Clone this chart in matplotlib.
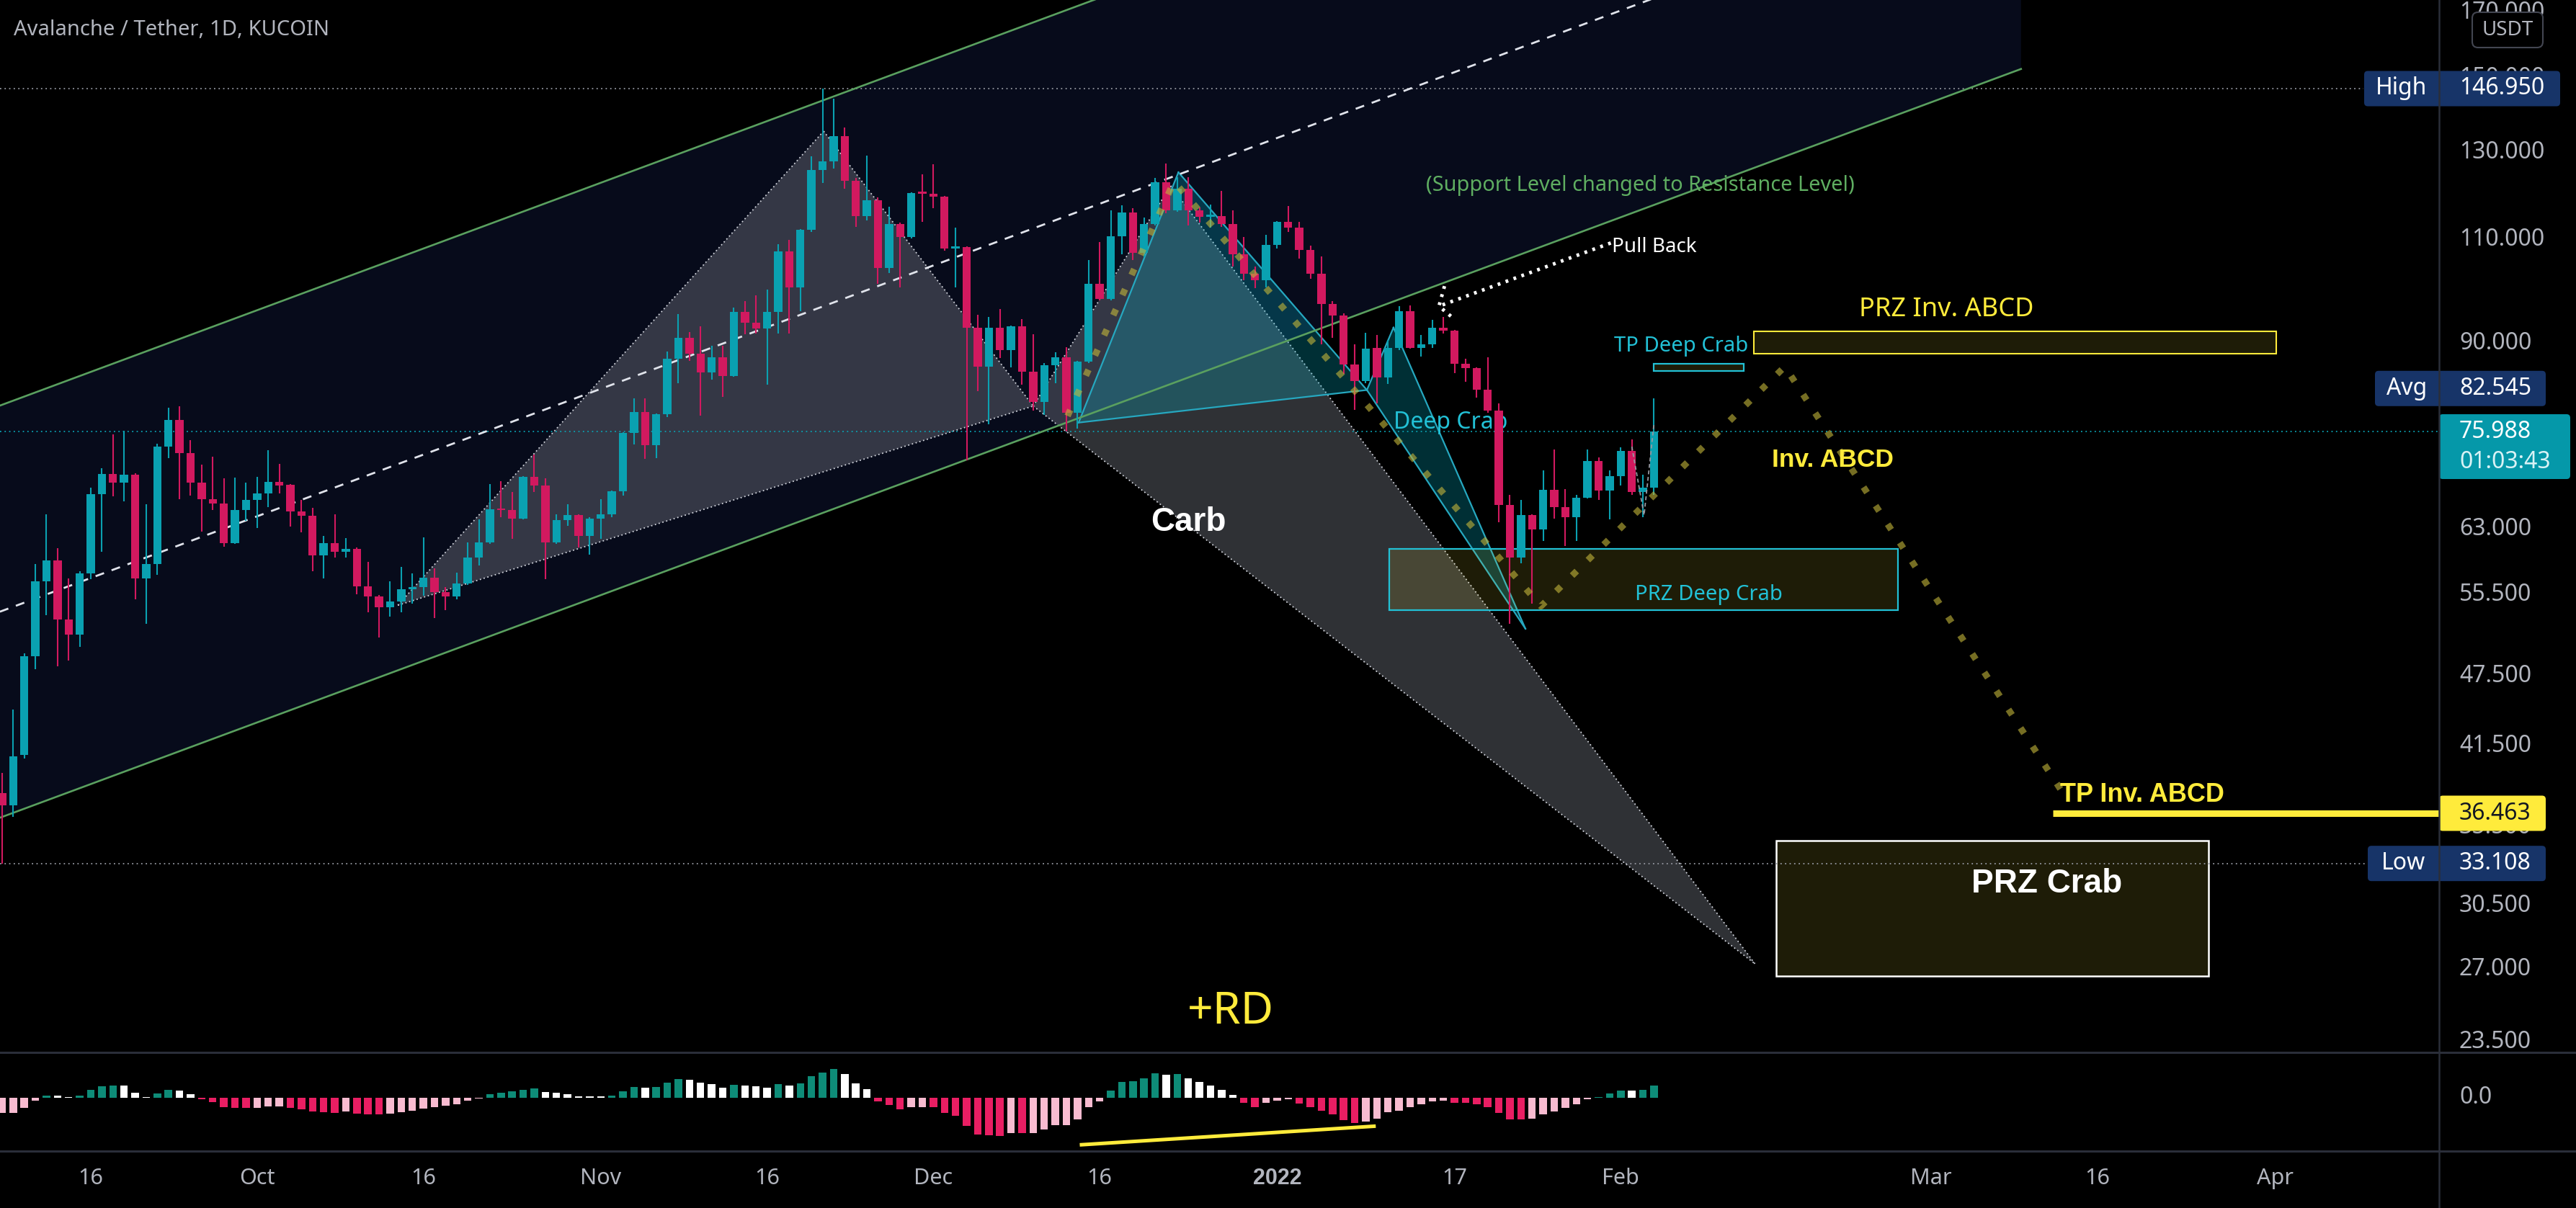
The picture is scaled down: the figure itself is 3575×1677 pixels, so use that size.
import matplotlib
matplotlib.use("Agg")
import matplotlib.pyplot as plt
import numpy as np
from matplotlib.patches import Polygon, Rectangle, FancyBboxPatch

plt.rcParams["font.family"] = ["Noto Sans", "DejaVu Sans"]
BOLD_FONT = ["Liberation Sans", "DejaVu Sans"]

# ---------------------------------------------------------------- data
# daily AVAX/USDT candles (KuCoin), day 0 = 2021-09-16
days = np.arange(-8, 142)
opens = [
    37.9, 37.0, 40.8, 49.3, 57.0, 59.3, 52.9, 51.4, 57.8, 67.4,
    70.0, 68.9, 69.9, 57.3, 58.9, 73.8, 77.7, 72.9, 68.9, 66.7,
    66.2, 61.3, 65.3, 66.6, 67.5, 69.0, 68.6, 65.2, 64.6, 59.9,
    61.3, 60.3, 60.6, 56.4, 55.3, 54.2, 54.8, 56.1, 56.3, 57.4,
    55.8, 55.3, 56.7, 59.6, 61.4, 65.4, 65.3, 64.3, 69.6, 68.5,
    61.4, 64.1, 64.7, 62.2, 64.3, 64.8, 67.7, 75.8, 78.9, 74.0,
    78.6, 87.4, 91.0, 88.2, 85.1, 87.7, 84.5, 95.6, 93.7, 92.6,
    95.7, 107.4, 100.3, 112.0, 125.6, 127.7, 134.2, 123.0, 115.0, 118.6,
    104.1, 113.3, 110.5, 120.2, 120.0, 119.4, 108.0, 108.3, 92.8, 86.1,
    92.8, 88.9, 93.0, 85.2, 80.4, 86.3, 87.6, 78.8, 86.9, 101.0,
    98.0, 110.6, 115.8, 107.1, 113.3, 122.7, 116.2, 121.2, 116.2, 114.8,
    115.0, 113.3, 106.8, 102.9, 101.6, 108.8, 113.8, 112.5, 107.7, 102.9,
    97.1, 95.0, 86.4, 83.7, 89.2, 84.3, 89.2, 95.8, 89.3, 89.9,
    92.8, 92.2, 86.6, 85.8, 82.3, 79.1, 66.0, 59.6, 64.7, 62.9,
    67.9, 65.7, 64.4, 66.9, 71.8, 67.8, 69.7, 73.2, 67.6, 68.2,
]
highs = [
    39.4, 44.5, 49.6, 58.9, 64.8, 60.7, 57.3, 58.1, 68.2, 70.8,
    75.6, 76.1, 70.1, 66.1, 74.2, 79.5, 79.8, 74.7, 71.3, 72.4,
    69.4, 69.5, 68.9, 69.6, 73.3, 71.4, 68.7, 66.6, 65.6, 62.2,
    64.8, 61.9, 60.8, 59.1, 55.5, 57.0, 58.6, 57.8, 62.0, 58.4,
    56.3, 57.9, 61.4, 64.2, 68.7, 69.1, 67.6, 69.7, 72.7, 69.4,
    64.8, 66.1, 64.8, 64.4, 66.7, 67.8, 75.9, 81.0, 81.0, 78.7,
    88.6, 95.2, 92.0, 93.0, 89.6, 89.6, 96.5, 97.7, 98.7, 99.9,
    108.9, 109.9, 112.1, 129.0, 146.95, 144.1, 136.4, 123.8, 129.1, 119.2,
    117.1, 113.6, 120.3, 124.6, 127.1, 119.5, 112.5, 108.5, 95.1, 94.7,
    96.2, 93.1, 94.3, 91.6, 86.7, 88.5, 89.4, 87.0, 105.6, 109.4,
    116.2, 117.4, 116.8, 114.7, 123.7, 127.3, 124.0, 124.0, 117.0, 117.6,
    120.7, 116.2, 110.4, 104.3, 111.0, 113.9, 117.2, 113.8, 108.7, 106.4,
    97.6, 95.4, 89.9, 91.9, 91.5, 90.6, 96.7, 96.9, 91.5, 94.2,
    94.7, 92.4, 87.4, 86.0, 87.6, 80.2, 67.3, 66.6, 64.8, 70.5,
    73.4, 68.0, 67.3, 73.4, 72.3, 70.5, 73.7, 74.8, 69.9, 81.0,
]
lows = [
    33.1, 36.2, 40.5, 48.1, 53.4, 48.4, 48.9, 50.2, 57.2, 60.3,
    67.1, 66.4, 55.0, 52.5, 57.7, 72.2, 66.7, 67.2, 62.7, 65.3,
    60.9, 61.2, 64.0, 63.1, 65.7, 67.5, 63.3, 62.6, 58.1, 57.3,
    59.6, 59.6, 55.6, 53.7, 51.1, 53.2, 53.7, 54.6, 55.4, 53.1,
    53.9, 55.0, 56.6, 58.7, 61.2, 64.4, 61.8, 64.2, 67.6, 57.2,
    61.2, 63.4, 60.8, 60.0, 61.8, 64.4, 67.2, 74.1, 72.1, 72.2,
    78.1, 83.4, 87.0, 78.3, 84.0, 81.2, 84.4, 91.6, 91.8, 83.1,
    91.8, 91.8, 95.8, 111.5, 122.5, 126.0, 121.2, 112.6, 114.1, 101.0,
    103.1, 100.3, 110.2, 113.8, 116.7, 107.6, 100.2, 71.9, 82.1, 77.0,
    87.5, 86.0, 83.2, 79.1, 78.5, 83.4, 76.0, 76.4, 86.7, 97.8,
    97.8, 106.9, 105.6, 106.2, 113.0, 115.7, 116.0, 113.0, 113.5, 112.5,
    112.6, 104.3, 101.6, 100.1, 100.2, 108.1, 111.6, 106.0, 101.9, 89.9,
    91.0, 84.9, 79.2, 83.4, 80.2, 83.3, 88.9, 89.1, 87.8, 89.3,
    91.7, 85.0, 83.6, 81.1, 78.8, 63.8, 52.5, 59.0, 54.6, 61.6,
    64.3, 61.0, 61.6, 66.8, 66.6, 64.2, 68.5, 67.3, 64.4, 67.3,
]
closes = [
    37.0, 40.7, 49.3, 57.0, 59.3, 52.9, 51.4, 57.8, 67.4, 70.0,
    68.9, 69.9, 57.3, 58.9, 73.8, 77.7, 72.9, 68.9, 66.7, 66.2,
    61.3, 65.3, 66.6, 67.5, 69.0, 68.5, 65.2, 64.6, 59.9, 61.3,
    60.3, 60.6, 56.4, 55.3, 54.2, 54.8, 56.1, 56.3, 57.4, 55.8,
    55.3, 56.7, 59.6, 61.4, 65.4, 65.3, 64.3, 69.6, 68.5, 61.4,
    64.1, 64.7, 62.2, 64.3, 64.8, 67.7, 75.8, 78.9, 74.0, 78.6,
    87.4, 91.0, 88.2, 85.1, 87.7, 84.5, 95.6, 93.7, 92.6, 95.7,
    107.4, 100.3, 112.0, 125.6, 127.7, 134.2, 123.0, 115.0, 118.6, 104.1,
    113.3, 110.5, 120.2, 120.0, 119.4, 108.0, 108.3, 92.8, 86.1, 92.8,
    88.9, 93.0, 85.2, 80.4, 86.3, 87.6, 78.8, 86.9, 101.0, 98.0,
    110.6, 115.8, 107.1, 113.3, 122.7, 116.2, 121.2, 116.2, 114.8, 115.0,
    113.3, 106.8, 102.9, 101.6, 108.8, 113.8, 112.5, 107.7, 102.9, 97.1,
    95.0, 86.4, 83.7, 89.1, 84.3, 89.2, 95.8, 89.3, 89.9, 92.8,
    92.2, 86.6, 85.8, 82.3, 79.1, 66.0, 59.6, 64.7, 62.9, 67.9,
    65.7, 64.4, 66.9, 71.8, 67.8, 69.7, 73.2, 67.6, 68.2, 75.988,
]

# MACD-style histogram, one bar per candle
hist_values = [
    -6.3, -6.3, -4.1, -1.3, 1.0, 0.9, 0.3, 0.9, 3.2, 4.7,
    5.0, 5.2, 2.2, 0.4, 1.9, 3.2, 3.0, 1.5, -0.5, -1.8,
    -3.8, -4.1, -4.1, -4.1, -3.5, -3.5, -4.1, -4.8, -5.6, -6.0,
    -6.3, -5.8, -6.5, -6.8, -7.0, -6.6, -6.0, -5.3, -4.6, -3.8,
    -3.3, -2.6, -1.3, -0.3, 1.4, 2.2, 2.7, 3.2, 3.9, 2.4,
    2.0, 1.4, 0.7, 0.7, 0.7, 1.0, 2.7, 4.4, 4.2, 4.4,
    6.2, 7.9, 7.5, 6.4, 5.7, 4.2, 5.4, 5.2, 4.7, 4.2,
    5.7, 5.0, 6.0, 9.0, 10.4, 12.0, 10.0, 6.0, 3.7, -1.5,
    -3.1, -4.8, -3.8, -3.8, -3.8, -6.3, -7.6, -11.6, -15.3, -15.5,
    -15.8, -14.6, -14.8, -14.8, -13.3, -11.3, -11.3, -9.0, -4.0, -1.6,
    3.0, 6.7, 7.0, 8.0, 10.2, 9.7, 9.9, 8.2, 6.7, 5.0,
    3.4, 1.2, -2.0, -3.8, -2.1, -1.3, -0.6, -2.3, -3.8, -5.3,
    -6.8, -9.3, -10.6, -10.0, -8.6, -6.0, -5.3, -4.0, -2.8, -1.6,
    -1.3, -2.0, -2.2, -2.8, -3.8, -6.3, -9.0, -9.0, -8.6, -6.8,
    -5.6, -4.3, -2.8, -0.6, 0.4, 1.7, 3.0, 3.0, 3.2, 5.0,
]
# t / w = above zero rising / falling, m / p = below zero falling / rising
hist_kinds = "".join([
    "pppptwwttt", "twwwttwwmm", "mmmpppmmmm", "mpmmmppppp", "pppptttttw",
    "wwwwwtttwt", "ttwwwwtwww", "twttttwwwm", "mmppmmmmmm", "mpmppppppp",
    "tttttwtwww", "wwmmpppmmm", "mmmppppppp", "pmmmmmmmpp", "pppptttwtt",
])

x_tick_days = [0, 15, 30, 46, 61, 76, 91, 107, 123, 138, 166, 181, 197]
x_tick_labels = ["16", "Oct", "16", "Nov", "16", "Dec", "16", "2022", "17", "Feb", "Mar", "16", "Apr"]
price_ticks = [170, 150, 130, 110, 90, 63, 55.5, 47.5, 41.5, 35.5, 30.5, 27, 23.5]

high_price, avg_price, low_price, last_price = 146.95, 82.545, 33.108, 75.988

# ascending channel (straight on the log chart)
channel_days = [-8.2, 174.1]
channel_lower = [36.15, 152.6]
channel_mid = [53.73, 227.2]
channel_upper = [79.87, 337.6]

# harmonic patterns: X, A, B, C, D
crab_days = [27.7, 66.1, 85.0, 97.4, 150.1]
crab_prices = [54.4, 135.4, 79.8, 121.9, 27.3]
deep_days = [89.1, 98.1, 115.1, 117.5, 129.4]
deep_prices = [77.3, 125.1, 82.3, 92.8, 52.0]
abcd_days = [88.1, 97.7, 130.8, 152.8, 178.3]
abcd_prices = [78.3, 122.9, 54.3, 86.1, 37.4]

# zones: first day, last day, low, high
prz_deep_crab = (117.1, 163.0, 53.9, 60.6)
tp_deep_crab = (141.0, 149.1, 85.4, 86.6)
prz_inv_abcd = (150.0, 197.1, 88.3, 92.1)
prz_crab = (152.0, 191.0, 26.66, 34.6)
tp_inv_abcd_price, tp_inv_abcd_start = 36.463, 177.0

pullback_days = [137.1, 121.6]
pullback_prices = [109.2, 96.7]
pullback_head_days = [122.1, 121.6, 123.0]
pullback_head_prices = [100.5, 96.7, 94.3]
projection_days = [139.0, 140.1, 141.0]
projection_prices = [73.8, 64.7, 77.2]

rd_days = [89.2, 115.9]
rd_values = [-19.6, -11.8]

# ---------------------------------------------------------------- style
BG = "#000000"
TXT = "#b2b5be"
UP, DOWN = "#0aa1b1", "#d2195f"
HIST_COLORS = {"t": "#0e8c78", "w": "#ffffff", "m": "#e91e63", "p": "#f8bbd0"}
YELLOW = "#ffeb3b"
CYAN = "#22c1d6"
GREEN = "#5aa05f"
TAG_BLUE = "#173468"
FS = 23

W, H, DPI = 3575, 1677, 100
PANE_Y, HIST_Y, AXIS_X = 1461, 1598, 3385

fig = plt.figure(figsize=(W / DPI, H / DPI), dpi=DPI, facecolor=BG)
ax = fig.add_axes([0, 1 - PANE_Y / H, AXIS_X / W, PANE_Y / H])
hax = fig.add_axes([0, 1 - HIST_Y / H, AXIS_X / W, (HIST_Y - PANE_Y) / H])
ov = fig.add_axes([0, 0, 1, 1], zorder=10)
for a in (ax, hax, ov):
    a.set_axis_off()
ov.patch.set_alpha(0)
ov.set_xlim(0, W)
ov.set_ylim(H, 0)

ax.set_yscale("log")
ax.set_xlim(-8.19, 211.81)
ax.set_ylim(23.02, 174.25)
hax.set_xlim(-8.19, 211.81)
hax.set_ylim(-22.2, 18.9)

# ---------------------------------------------------------------- channel
ax.add_patch(Polygon(
    [(channel_days[0], channel_lower[0]), (channel_days[1], channel_lower[1]),
     (channel_days[1], channel_upper[1]), (channel_days[0], channel_upper[0])],
    closed=True, fc="#070b1b", ec="none", zorder=0.5))
ax.plot(channel_days, channel_lower, color=GREEN, lw=1.9, zorder=2)
ax.plot(channel_days, channel_upper, color=GREEN, lw=1.9, zorder=2)
ax.plot(channel_days, channel_mid, color="#e0e3eb", lw=2, dashes=(4.5, 4), zorder=2)


def xabcd(dd, pp, face, alpha, edge, style, lw, z):
    pts = list(zip(dd, pp))
    for tri in ((0, 1, 2), (2, 3, 4)):
        ax.add_patch(Polygon([pts[i] for i in tri], closed=True, fc=face, alpha=alpha,
                             ec="none", zorder=z))
    for i, j in ((0, 1), (1, 2), (0, 2), (2, 3), (3, 4), (2, 4)):
        ax.plot([dd[i], dd[j]], [pp[i], pp[j]], color=edge, lw=lw, ls=style, zorder=z + 0.05)


xabcd(crab_days, crab_prices, "#787b86", 0.40, "#d1d4dc", (0, (1, 2)), 1.3, 1.0)
xabcd(deep_days, deep_prices, "#00bcd4", 0.25, "#26a8c0", "-", 1.6, 1.2)


def zone(box, edge, lw):
    d0, d1, lo, hi = box
    ax.add_patch(Rectangle((d0, lo), d1 - d0, hi - lo, fc=YELLOW, alpha=0.12, ec="none", zorder=1.3))
    ax.add_patch(Rectangle((d0, lo), d1 - d0, hi - lo, fc="none", ec=edge, lw=lw, zorder=1.35))


zone(prz_deep_crab, CYAN, 1.6)
zone(tp_deep_crab, CYAN, 1.6)
zone(prz_inv_abcd, YELLOW, 1.5)
zone(prz_crab, "#ffffff", 1.8)

xmin, xmax = ax.get_xlim()
ax.plot([tp_inv_abcd_start, xmax], [tp_inv_abcd_price] * 2, color=YELLOW, lw=6.5,
        solid_capstyle="butt", zorder=2)

# reference levels
ax.plot([xmin, 205.0], [high_price] * 2, color="#9598a1", lw=1.3, ls=(0, (1, 2.5)), zorder=1.5)
ax.plot([xmin, 205.4], [low_price] * 2, color="#9598a1", lw=1.3, ls=(0, (1, 2.5)), zorder=1.5)
ax.plot([xmin, xmax], [last_price] * 2, color="#0aa1b1", lw=1.3, ls=(0, (1, 2.5)), zorder=1.5)

# ---------------------------------------------------------------- notes under candles
ax.text(120.4, 121.9, "(Support Level changed to Resistance Level)", color="#5fae61",
        fontsize=20.8, ha="left", va="center", zorder=2.5)
ax.text(117.5, 77.3, "Deep Crab", color=CYAN, fontsize=23, ha="left", va="center", zorder=2.5)
ax.text(99.0, 63.8, "Carb", color="white", fontsize=33, fontweight="bold", family=BOLD_FONT,
        ha="center", va="center", zorder=2.5)

# ---------------------------------------------------------------- candles
o, hi_, lo_, c = map(np.asarray, (opens, highs, lows, closes))
cols = np.where(c >= o, UP, DOWN)
ax.vlines(days, lo_, hi_, colors=cols, lw=1.5, zorder=3)
body_lo = np.minimum(o, c)
body_hi = np.maximum(o, c)
ax.bar(days, np.maximum(body_hi - body_lo, body_lo * 0.004), bottom=body_lo, width=0.74,
       color=cols, zorder=3.1)

# projected ABCD legs (thick dotted, squares read as diamonds)
ax.plot(abcd_days, abcd_prices, color="#bfb23a", alpha=0.62, lw=6.5, dashes=(1, 2.4),
        solid_capstyle="butt", zorder=3.5)
ax.plot(projection_days, projection_prices, color="#9598a1", lw=1.3, ls=(0, (3, 2)), zorder=3.4)

ax.plot(pullback_days, pullback_prices, color="white", lw=3.5, dashes=(0.8, 1.6), zorder=4)
ax.plot(pullback_head_days, pullback_head_prices, color="white", lw=3.5, dashes=(0.8, 1.6), zorder=4)

ax.text(137.2, 108.3, "Pull Back", color="white", fontsize=20, ha="left", va="center", zorder=4)
ax.text(159.5, 96.0, "PRZ Inv. ABCD", color=YELLOW, fontsize=26, ha="left", va="center", zorder=4)
ax.text(137.4, 89.5, "TP Deep Crab", color=CYAN, fontsize=21, ha="left", va="center", zorder=4)
ax.text(151.6, 71.9, "Inv. ABCD", color=YELLOW, fontsize=25.5, fontweight="bold", family=BOLD_FONT,
        ha="left", va="center", zorder=4)
ax.text(139.3, 55.5, "PRZ Deep Crab", color=CYAN, fontsize=21, ha="left", va="center", zorder=4)
ax.text(177.6, 37.75, "TP Inv. ABCD", color=YELLOW, fontsize=26, fontweight="bold", family=BOLD_FONT,
        ha="left", va="center", zorder=4)
ax.text(176.4, 31.83, "PRZ Crab", color="white", fontsize=33, fontweight="bold", family=BOLD_FONT,
        ha="center", va="center", zorder=4)
ax.text(102.8, 24.87, "+RD", color=YELLOW, fontsize=45, ha="center", va="center", zorder=4)

# ---------------------------------------------------------------- histogram pane
hax.bar(days, hist_values, width=0.68, color=[HIST_COLORS[k] for k in hist_kinds])
hax.plot(rd_days, rd_values, color=YELLOW, lw=3.6, solid_capstyle="butt")


# ---------------------------------------------------------------- price scale & labels (overlay, pixels)
def price_px(p):
    return H - ax.transData.transform((0, p))[1]


def day_px(d):
    return ax.transData.transform((d, 100))[0]


for p in price_ticks:
    ov.text(3413, price_px(p), f"{p:.3f}", color=TXT, fontsize=FS, ha="left", va="center", zorder=1)
zero_y = H - hax.transData.transform((0, 0))[1]
ov.text(3413, zero_y, "0.0", color=TXT, fontsize=FS, ha="left", va="center", zorder=1)

for d, lab in zip(x_tick_days, x_tick_labels):
    if lab == "2022":
        ov.text(day_px(d), 1636, lab, color=TXT, fontsize=22, fontweight="bold", family=BOLD_FONT,
                ha="center", va="center")
    else:
        ov.text(day_px(d), 1636, lab, color=TXT, fontsize=22, ha="center", va="center")

ov.text(19, 41, "Avalanche / Tether, 1D, KUCOIN", color=TXT, fontsize=21, ha="left", va="center")


def tag(x0, x1, yc, color, h=49, z=2):
    ov.add_patch(FancyBboxPatch((x0, yc - h / 2), x1 - x0, h, boxstyle="round,pad=0,rounding_size=5",
                                fc=color, ec="none", zorder=z))


ov.add_patch(FancyBboxPatch((3431, 17), 98, 49, boxstyle="round,pad=0,rounding_size=8",
                            fc=BG, ec="#434651", lw=1.5, zorder=2))
ov.text(3480, 42, "USDT", color=TXT, fontsize=20, ha="center", va="center", zorder=3)

for name, val, x0, x1 in (("High", high_price, 3281, 3553), ("Avg", avg_price, 3296, 3533),
                          ("Low", low_price, 3286, 3533)):
    y = price_px(val)
    tag(x0, x1, y, TAG_BLUE)
    ov.text((x0 + AXIS_X) / 2, y, name, color="white", fontsize=FS, ha="center", va="center", zorder=3)
    ov.text(3413, y, f"{val:.3f}", color="white", fontsize=FS, ha="left", va="center", zorder=3)

y_last = price_px(last_price)
tag(AXIS_X, 3567, y_last + 21, "#0598a9", h=90)
ov.text(3413, y_last, f"{last_price:.3f}", color="white", fontsize=FS, ha="left", va="center", zorder=3)
ov.text(3413, y_last + 42, "01:03:43", color="#d8f2f5", fontsize=FS, ha="left", va="center", zorder=3)

y_tp = price_px(tp_inv_abcd_price)
tag(AXIS_X, 3533, y_tp, YELLOW)
ov.text(3413, y_tp, f"{tp_inv_abcd_price:.3f}", color="#131722", fontsize=FS, ha="left",
        va="center", zorder=3)

sep = "#2a2e39"
ov.plot([AXIS_X, AXIS_X], [0, H], color=sep, lw=1.8, zorder=4)
ov.plot([0, W], [PANE_Y, PANE_Y], color=sep, lw=2.2, zorder=4)
ov.plot([0, W], [HIST_Y, HIST_Y], color=sep, lw=2.2, zorder=4)

fig.savefig("out.png", dpi=DPI, facecolor=BG)
